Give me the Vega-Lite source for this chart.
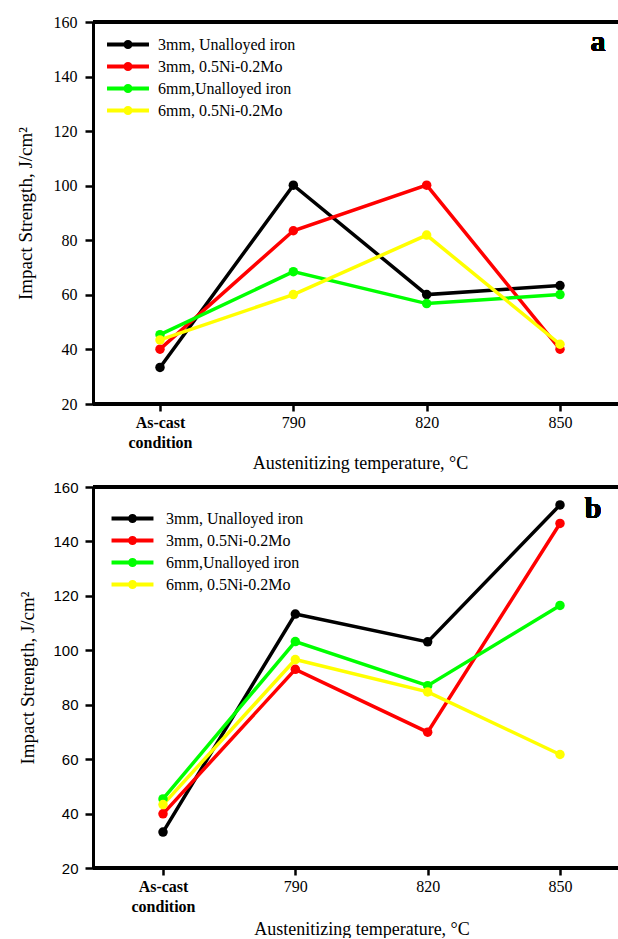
{
  "$schema": "https://vega.github.io/schema/vega-lite/v6.json",
  "padding": {"top": 14, "left": 16, "right": 0, "bottom": 0},
  "background": "white",
  "config": {"view": {"stroke": null}, "font": "Liberation Serif"},
  "spacing": 8,
  "resolve": {"scale": {"x": "independent", "color": "independent"}, "legend": {"color": "independent"}},
  "data": {"values": [
    {"panel": "a", "series": "3mm, Unalloyed iron", "temp": "As-cast condition", "value": 33.4},
    {"panel": "a", "series": "3mm, Unalloyed iron", "temp": "790", "value": 100.2},
    {"panel": "a", "series": "3mm, Unalloyed iron", "temp": "820", "value": 60.1},
    {"panel": "a", "series": "3mm, Unalloyed iron", "temp": "850", "value": 63.4},
    {"panel": "a", "series": "3mm, 0.5Ni-0.2Mo", "temp": "As-cast condition", "value": 40.1},
    {"panel": "a", "series": "3mm, 0.5Ni-0.2Mo", "temp": "790", "value": 83.5},
    {"panel": "a", "series": "3mm, 0.5Ni-0.2Mo", "temp": "820", "value": 100.2},
    {"panel": "a", "series": "3mm, 0.5Ni-0.2Mo", "temp": "850", "value": 40.1},
    {"panel": "a", "series": "6mm,Unalloyed iron", "temp": "As-cast condition", "value": 45.4},
    {"panel": "a", "series": "6mm,Unalloyed iron", "temp": "790", "value": 68.5},
    {"panel": "a", "series": "6mm,Unalloyed iron", "temp": "820", "value": 56.8},
    {"panel": "a", "series": "6mm,Unalloyed iron", "temp": "850", "value": 60.1},
    {"panel": "a", "series": "6mm, 0.5Ni-0.2Mo", "temp": "As-cast condition", "value": 43.5},
    {"panel": "a", "series": "6mm, 0.5Ni-0.2Mo", "temp": "790", "value": 60.1},
    {"panel": "a", "series": "6mm, 0.5Ni-0.2Mo", "temp": "820", "value": 81.9},
    {"panel": "a", "series": "6mm, 0.5Ni-0.2Mo", "temp": "850", "value": 41.9},
    {"panel": "b", "series": "3mm, Unalloyed iron", "temp": "As-cast condition", "value": 33.2},
    {"panel": "b", "series": "3mm, Unalloyed iron", "temp": "790", "value": 113.3},
    {"panel": "b", "series": "3mm, Unalloyed iron", "temp": "820", "value": 103.1},
    {"panel": "b", "series": "3mm, Unalloyed iron", "temp": "850", "value": 153.4},
    {"panel": "b", "series": "3mm, 0.5Ni-0.2Mo", "temp": "As-cast condition", "value": 39.9},
    {"panel": "b", "series": "3mm, 0.5Ni-0.2Mo", "temp": "790", "value": 93.0},
    {"panel": "b", "series": "3mm, 0.5Ni-0.2Mo", "temp": "820", "value": 69.9},
    {"panel": "b", "series": "3mm, 0.5Ni-0.2Mo", "temp": "850", "value": 146.6},
    {"panel": "b", "series": "6mm,Unalloyed iron", "temp": "As-cast condition", "value": 45.4},
    {"panel": "b", "series": "6mm,Unalloyed iron", "temp": "790", "value": 103.2},
    {"panel": "b", "series": "6mm,Unalloyed iron", "temp": "820", "value": 87.0},
    {"panel": "b", "series": "6mm,Unalloyed iron", "temp": "850", "value": 116.5},
    {"panel": "b", "series": "6mm, 0.5Ni-0.2Mo", "temp": "As-cast condition", "value": 43.3},
    {"panel": "b", "series": "6mm, 0.5Ni-0.2Mo", "temp": "790", "value": 96.6},
    {"panel": "b", "series": "6mm, 0.5Ni-0.2Mo", "temp": "820", "value": 84.7},
    {"panel": "b", "series": "6mm, 0.5Ni-0.2Mo", "temp": "850", "value": 61.7}
  ]},
  "vconcat": [
    {
      "width": 525,
      "height": 382,
      "transform": [{"filter": "datum.panel == 'a'"}],
      "encoding": {
        "y": {"field": "value", "type": "quantitative",
          "scale": {"domain": [20, 160], "nice": false, "zero": false},
          "axis": {"values": [20, 40, 60, 80, 100, 120, 140, 160], "grid": false,
            "tickSize": 8, "tickWidth": 2.5, "tickColor": "black", "domainWidth": 3, "domainColor": "black",
            "labelFont": "Liberation Serif, Times New Roman, serif", "labelFontSize": 16, "labelColor": "black", "labelPadding": 8,
            "title": "Impact Strength, J/cm²", "titleFont": "Liberation Serif, Times New Roman, serif", "titleFontSize": 19,
            "titleFontWeight": "normal", "titleColor": "black", "titlePadding": 18}}
      },
      "layer": [
        {"mark": {"type": "rule", "color": "black", "strokeWidth": 3}, "encoding": {"y": {"datum": 160}}},
        {"mark": {"type": "rule", "color": "black", "strokeWidth": 3}, "encoding": {"y": {"datum": 20}}},
        {
          "mark": {"type": "line", "strokeWidth": 3.5},
          "encoding": {
            "x": {"field": "temp", "type": "nominal", "sort": ["As-cast condition", "790", "820", "850"],
              "scale": {"type": "point", "range": [67, 467], "padding": 0},
              "axis": {"domain": false, "tickSize": 7, "tickWidth": 2.5, "tickColor": "black", "labelAngle": 0,
                "labelExpr": "datum.label == 'As-cast condition' ? ['As-cast', 'condition'] : datum.label",
                "labelFont": "Liberation Serif, Times New Roman, serif", "labelFontSize": 16, "labelColor": "black", "labelLineHeight": 20,
                "labelFontWeight": {"condition": {"test": "datum.label == 'As-cast condition'", "value": "bold"}, "value": "normal"},
                "labelPadding": 3, "labelBaseline": "top",
                "title": "Austenitizing temperature, °C", "titleFont": "Liberation Serif, Times New Roman, serif", "titleFontSize": 18,
                "titleFontWeight": "normal", "titleColor": "black", "titlePadding": 4}},
            "color": {"field": "series", "type": "nominal",
              "scale": {"domain": ["3mm, Unalloyed iron", "3mm, 0.5Ni-0.2Mo", "6mm,Unalloyed iron", "6mm, 0.5Ni-0.2Mo"],
                "range": ["#000000", "#ff0000", "#00ff00", "#ffff00"]},
              "legend": {"orient": "none", "legendX": 24, "legendY": 11.5, "title": null, "padding": 0,
                "symbolType": "M-2.33,0L2.33,0M0.28,0A0.28,0.28,0,1,1,-0.28,0A0.28,0.28,0,1,1,0.28,0",
                "symbolSize": 324, "symbolStrokeWidth": 4, "labelOffset": 19, "rowPadding": -0.8,
                "labelFont": "Liberation Serif, Times New Roman, serif", "labelFontSize": 16, "labelColor": "black"}}
          }
        },
        {
          "mark": {"type": "point", "filled": true, "size": 90, "opacity": 1},
          "encoding": {
            "x": {"field": "temp", "type": "nominal", "sort": ["As-cast condition", "790", "820", "850"]},
            "color": {"field": "series", "type": "nominal", "legend": null}
          }
        },
        {
          "mark": {"type": "text", "font": "Liberation Serif, Times New Roman, serif", "fontSize": 30, "fontWeight": "bold", "color": "black", "dx": 38, "baseline": "middle"},
          "encoding": {"x": {"datum": "850", "type": "nominal"}, "y": {"datum": 152.5}, "text": {"value": "a"}}
        }
      ]
    },
    {
      "width": 525,
      "height": 381,
      "transform": [{"filter": "datum.panel == 'b'"}],
      "encoding": {
        "y": {"field": "value", "type": "quantitative",
          "scale": {"domain": [20, 160], "nice": false, "zero": false},
          "axis": {"values": [20, 40, 60, 80, 100, 120, 140, 160], "grid": false,
            "tickSize": 8, "tickWidth": 2.5, "tickColor": "black", "domainWidth": 3, "domainColor": "black",
            "labelFont": "Liberation Sans, Arial, sans-serif", "labelFontSize": 15, "labelColor": "black", "labelPadding": 7,
            "title": "Impact Strength, J/cm²", "titleFont": "Liberation Serif, Times New Roman, serif", "titleFontSize": 19,
            "titleFontWeight": "normal", "titleColor": "black", "titlePadding": 15}}
      },
      "layer": [
        {"mark": {"type": "rule", "color": "black", "strokeWidth": 3}, "encoding": {"y": {"datum": 160}}},
        {"mark": {"type": "rule", "color": "black", "strokeWidth": 3}, "encoding": {"y": {"datum": 20}}},
        {
          "mark": {"type": "line", "strokeWidth": 3.5},
          "encoding": {
            "x": {"field": "temp", "type": "nominal", "sort": ["As-cast condition", "790", "820", "850"],
              "scale": {"type": "point", "range": [70, 467], "padding": 0},
              "axis": {"domain": false, "tickSize": 7, "tickWidth": 2.5, "tickColor": "black", "labelAngle": 0,
                "labelExpr": "datum.label == 'As-cast condition' ? ['As-cast', 'condition'] : datum.label",
                "labelFont": "Liberation Serif, Times New Roman, serif", "labelFontSize": 16, "labelColor": "black", "labelLineHeight": 20,
                "labelFontWeight": {"condition": {"test": "datum.label == 'As-cast condition'", "value": "bold"}, "value": "normal"},
                "labelPadding": 3, "labelBaseline": "top",
                "title": "Austenitizing temperature, °C", "titleFont": "Liberation Serif, Times New Roman, serif", "titleFontSize": 18,
                "titleFontWeight": "normal", "titleColor": "black", "titlePadding": 6}},
            "color": {"field": "series", "type": "nominal",
              "scale": {"domain": ["3mm, Unalloyed iron", "3mm, 0.5Ni-0.2Mo", "6mm,Unalloyed iron", "6mm, 0.5Ni-0.2Mo"],
                "range": ["#000000", "#ff0000", "#00ff00", "#ffff00"]},
              "legend": {"orient": "none", "legendX": 28.5, "legendY": 20.5, "title": null, "padding": 0,
                "symbolType": "M-2.33,0L2.33,0M0.28,0A0.28,0.28,0,1,1,-0.28,0A0.28,0.28,0,1,1,0.28,0",
                "symbolSize": 324, "symbolStrokeWidth": 4, "labelOffset": 22.5, "rowPadding": -0.3,
                "labelFont": "Liberation Serif, Times New Roman, serif", "labelFontSize": 16, "labelColor": "black"}}
          }
        },
        {
          "mark": {"type": "point", "filled": true, "size": 90, "opacity": 1},
          "encoding": {
            "x": {"field": "temp", "type": "nominal", "sort": ["As-cast condition", "790", "820", "850"]},
            "color": {"field": "series", "type": "nominal", "legend": null}
          }
        },
        {
          "mark": {"type": "text", "font": "Liberation Serif, Times New Roman, serif", "fontSize": 30, "fontWeight": "bold", "color": "black", "dx": 33, "baseline": "middle"},
          "encoding": {"x": {"datum": "850", "type": "nominal"}, "y": {"datum": 152}, "text": {"value": "b"}}
        }
      ]
    }
  ]
}
